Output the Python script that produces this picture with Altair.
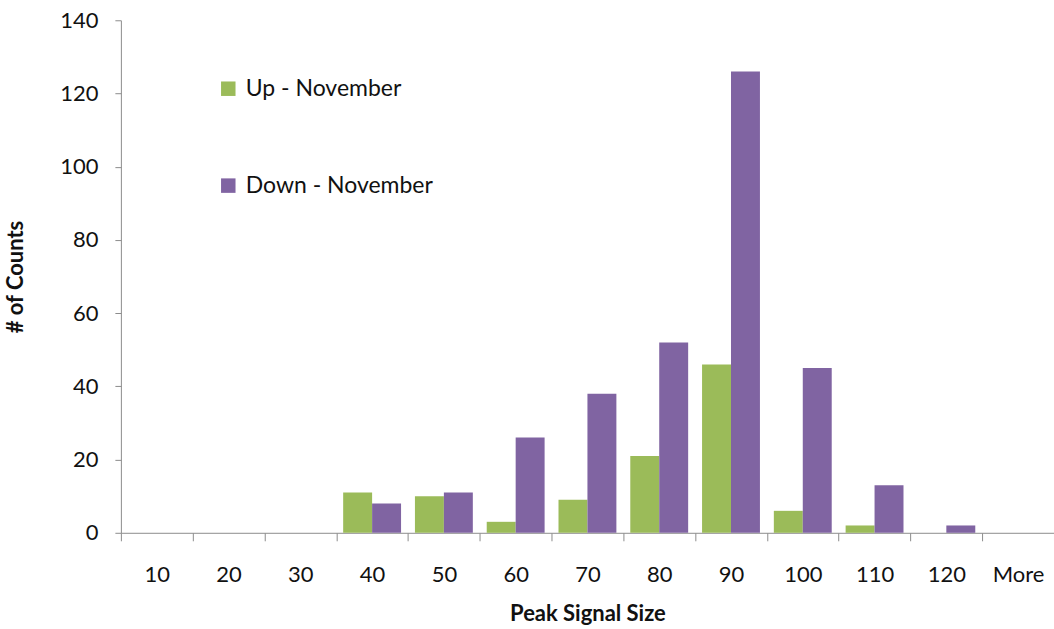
import altair as alt
import pandas as pd

# Histogram bins and counts per series
bins = ["10", "20", "30", "40", "50", "60", "70", "80", "90", "100", "110", "120", "More"]
up_november = [0, 0, 0, 11, 10, 3, 9, 21, 46, 6, 2, 0, 0]
down_november = [0, 0, 0, 8, 11, 26, 38, 52, 126, 45, 13, 2, 0]
series_names = ["Up - November", "Down - November"]
series_colors = ["#9BBB59", "#8064A2"]

rows = []
for b, u, d in zip(bins, up_november, down_november):
    rows.append({"bin": b, "series": series_names[0], "count": u})
    rows.append({"bin": b, "series": series_names[1], "count": d})
df = pd.DataFrame(rows)

font = "Lato"
grey = "#8c8c8c"

chart = alt.Chart(df).mark_bar().encode(
    x=alt.X(
        "bin:N",
        sort=bins,
        scale=alt.Scale(paddingInner=0, paddingOuter=0),
        axis=alt.Axis(
            title="Peak Signal Size",
            labelAngle=0,
            tickBand="extent",
            labelPadding=24,
            tickSize=8,
            titlePadding=18,
        ),
    ),
    xOffset=alt.XOffset(
        "series:N",
        sort=series_names,
        scale=alt.Scale(paddingInner=0, paddingOuter=0.24),
    ),
    y=alt.Y(
        "count:Q",
        scale=alt.Scale(domain=[0, 140], nice=False),
        axis=alt.Axis(
            title="# of Counts",
            values=list(range(0, 141, 20)),
            grid=False,
            tickSize=6,
            labelPadding=17,
            titlePadding=32,
        ),
    ),
    color=alt.Color(
        "series:N",
        sort=series_names,
        scale=alt.Scale(domain=series_names, range=series_colors),
        legend=alt.Legend(
            title=None,
            orient="none",
            legendX=96,
            legendY=57,
            symbolType="square",
            symbolSize=210,
            symbolStrokeWidth=0,
            labelFontSize=23,
            labelFont=font,
            labelColor="#111111",
            labelLimit=0,
            rowPadding=73,
            labelOffset=6,
        ),
    ),
).properties(
    width=934,
    height=513,
    autosize=alt.AutoSizeParams(type="none"),
    padding={"left": 121, "top": 20, "right": 0, "bottom": 96},
).configure_view(
    stroke=None
).configure_axis(
    domainColor=grey,
    tickColor=grey,
    labelFont=font,
    labelFontSize=22,
    labelColor="#111111",
    titleFont=font,
    titleFontSize=22,
    titleFontWeight="bold",
    titleColor="#111111",
)

chart.save("out.html", embed_options={"renderer": "svg", "actions": False})
